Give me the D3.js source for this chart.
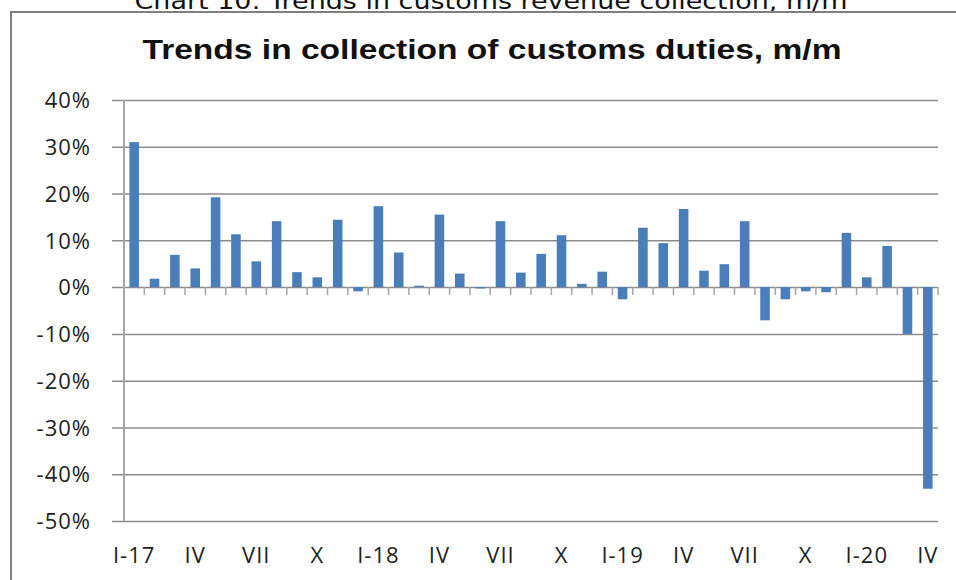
<!DOCTYPE html>
<html>
<head>
<meta charset="utf-8">
<script src="https://cdn.jsdelivr.net/npm/d3@7"></script>
<style>
  html, body { margin: 0; padding: 0; background: #fff; }
  svg { display: block; }
</style>
</head>
<body>
<svg id="chart" width="956" height="580"></svg>
<script>
// ---- data ----
const categories = [
  "I-17","II-17","III-17","IV-17","V-17","VI-17","VII-17","VIII-17","IX-17","X-17","XI-17","XII-17",
  "I-18","II-18","III-18","IV-18","V-18","VI-18","VII-18","VIII-18","IX-18","X-18","XI-18","XII-18",
  "I-19","II-19","III-19","IV-19","V-19","VI-19","VII-19","VIII-19","IX-19","X-19","XI-19","XII-19",
  "I-20","II-20","III-20","IV-20"
];
const values = [
  0.310, 0.018, 0.069, 0.040, 0.192, 0.113, 0.055, 0.141, 0.032, 0.021, 0.144, -0.009,
  0.173, 0.074, 0.003, 0.155, 0.029, -0.003, 0.141, 0.031, 0.071, 0.111, 0.007, 0.033,
  -0.026, 0.127, 0.094, 0.167, 0.035, 0.049, 0.141, -0.071, -0.026, -0.009, -0.011, 0.116,
  0.021, 0.088, -0.100, -0.431
];
const xTickLabels = ["I-17","IV","VII","X","I-18","IV","VII","X","I-19","IV","VII","X","I-20","IV"];
const yTicks = [0.4, 0.3, 0.2, 0.1, 0, -0.1, -0.2, -0.3, -0.4, -0.5];
const yTickLabels = ["40%","30%","20%","10%","0%","-10%","-20%","-30%","-40%","-50%"];
const outerTitle = "Chart 10: Trends in customs revenue collection, m/m";
const chartTitle = "Trends in collection of customs duties, m/m";

// ---- layout ----
const svg = d3.select("#chart");
const plotLeft = 124, plotRight = 938, plotTop = 100, plotBottom = 521;

const x = d3.scaleBand()
  .domain(categories)
  .range([plotLeft, plotRight])
  .paddingInner(0.53)
  .paddingOuter(0.265);
const y = d3.scaleLinear().domain([-0.5, 0.4]).range([plotBottom, plotTop]);

// outer title
svg.append("text")
  .attr("x", 491).attr("y", 9)
  .attr("text-anchor", "middle")
  .attr("font-family", "DejaVu Sans")
  .attr("font-size", 23)
  .attr("fill", "#111")
  .attr("textLength", 713)
  .attr("lengthAdjust", "spacingAndGlyphs")
  .text(outerTitle);

// frame
svg.append("path")
  .attr("d", "M11,590 L11,12 L970,12")
  .attr("fill", "none")
  .attr("stroke", "#7f7f7f")
  .attr("stroke-width", 2);

// chart title
svg.append("text")
  .attr("x", 492).attr("y", 59)
  .attr("text-anchor", "middle")
  .attr("font-family", "Liberation Sans, Arial, sans-serif")
  .attr("font-weight", "bold")
  .attr("font-size", 27)
  .attr("fill", "#111")
  .attr("textLength", 699)
  .attr("lengthAdjust", "spacingAndGlyphs")
  .text(chartTitle);

// gridlines + y axis
const yAxis = d3.axisLeft(y)
  .tickValues(yTicks)
  .tickSize(-(plotRight - 112))
  .tickPadding(21)
  .tickFormat((d, i) => yTickLabels[i]);
const gy = svg.append("g")
  .attr("transform", "translate(112,0)")
  .call(yAxis);
gy.select(".domain").remove();
gy.selectAll(".tick line")
  .attr("stroke", "#8c8c8c")
  .attr("stroke-width", 1.5);
gy.selectAll(".tick text")
  .attr("font-family", "Open Sans, sans-serif")
  .attr("font-size", 22)
  .attr("letter-spacing", 1)
  .attr("fill", "#222")
  .attr("dy", "0.35em");

// vertical axis line
svg.append("line")
  .attr("x1", plotLeft).attr("x2", plotLeft)
  .attr("y1", y(0.4)).attr("y2", y(-0.5))
  .attr("stroke", "#a6a6a6")
  .attr("stroke-width", 2);

// bars
svg.append("g").selectAll("rect")
  .data(values)
  .join("rect")
  .attr("x", (d, i) => x(categories[i]))
  .attr("width", x.bandwidth())
  .attr("y", d => y(Math.max(0, d)))
  .attr("height", d => Math.abs(y(d) - y(0)))
  .attr("fill", "#4a7ebb");

// category tick marks on zero line
const step = x.step();
const tickXs = d3.range(1, categories.length + 1).map(i => x.range()[0] + i * step);
svg.append("g").selectAll("line")
  .data(tickXs)
  .join("line")
  .attr("x1", d => d).attr("x2", d => d)
  .attr("y1", y(0)).attr("y2", y(0) + 8)
  .attr("stroke", "#a6a6a6")
  .attr("stroke-width", 1.5);

// x labels (every 3rd category)
svg.append("g").selectAll("text")
  .data(xTickLabels)
  .join("text")
  .attr("x", (d, i) => x(categories[i * 3]) + x.bandwidth() / 2)
  .attr("y", 563)
  .attr("text-anchor", "middle")
  .attr("font-family", "Open Sans, sans-serif")
  .attr("font-size", 22)
  .attr("letter-spacing", 1)
  .attr("fill", "#222")
  .text(d => d);
</script>
</body>
</html>
